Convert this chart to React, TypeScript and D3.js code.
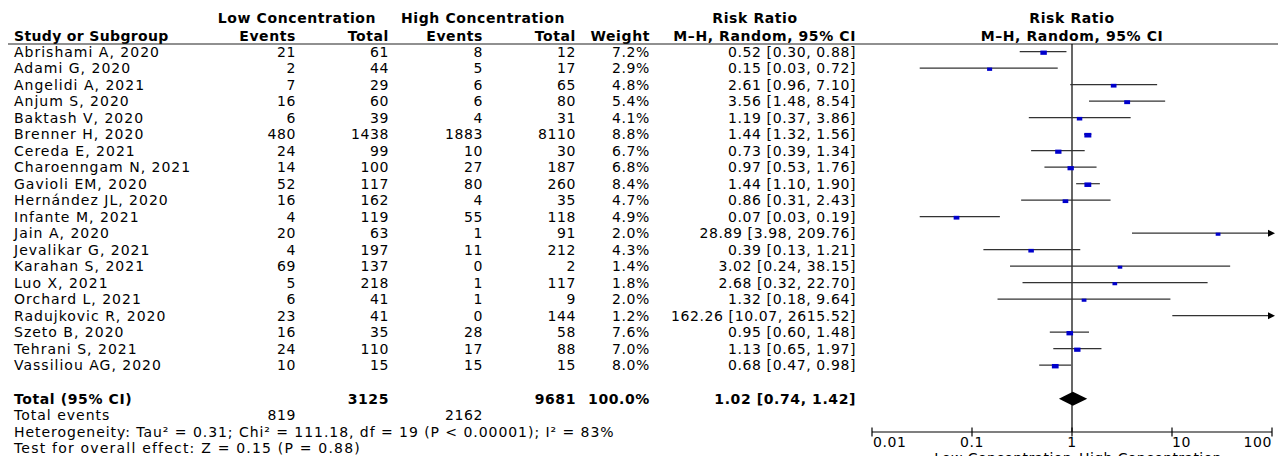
import React, { useEffect, useRef } from "react";
import * as d3 from "d3";

const studies = [
  "Abrishami A, 2020", "Adami G, 2020", "Angelidi A, 2021", "Anjum S, 2020",
  "Baktash V, 2020", "Brenner H, 2020", "Cereda E, 2021", "Charoenngam N, 2021",
  "Gavioli EM, 2020", "Hernández JL, 2020", "Infante M, 2021", "Jain A, 2020",
  "Jevalikar G, 2021", "Karahan S, 2021", "Luo X, 2021", "Orchard L, 2021",
  "Radujkovic R, 2020", "Szeto B, 2020", "Tehrani S, 2021", "Vassiliou AG, 2020"
];
const lowEvents = [21, 2, 7, 16, 6, 480, 24, 14, 52, 16, 4, 20, 4, 69, 5, 6, 23, 16, 24, 10];
const lowTotal = [61, 44, 29, 60, 39, 1438, 99, 100, 117, 162, 119, 63, 197, 137, 218, 41, 41, 35, 110, 15];
const highEvents = [8, 5, 6, 6, 4, 1883, 10, 27, 80, 4, 55, 1, 11, 0, 1, 1, 0, 28, 17, 15];
const highTotal = [12, 17, 65, 80, 31, 8110, 30, 187, 260, 35, 118, 91, 212, 2, 117, 9, 144, 58, 88, 15];
const weights = [7.2, 2.9, 4.8, 5.4, 4.1, 8.8, 6.7, 6.8, 8.4, 4.7, 4.9, 2.0, 4.3, 1.4, 1.8, 2.0, 1.2, 7.6, 7.0, 8.0];
const rr = [0.52, 0.15, 2.61, 3.56, 1.19, 1.44, 0.73, 0.97, 1.44, 0.86, 0.07, 28.89, 0.39, 3.02, 2.68, 1.32, 162.26, 0.95, 1.13, 0.68];
const ciLow = [0.30, 0.03, 0.96, 1.48, 0.37, 1.32, 0.39, 0.53, 1.10, 0.31, 0.03, 3.98, 0.13, 0.24, 0.32, 0.18, 10.07, 0.60, 0.65, 0.47];
const ciHigh = [0.88, 0.72, 7.10, 8.54, 3.86, 1.56, 1.34, 1.76, 1.90, 2.43, 0.19, 209.76, 1.21, 38.15, 22.70, 9.64, 2615.52, 1.48, 1.97, 0.98];

const totalLow = 3125;
const totalHigh = 9681;
const eventsLow = 819;
const eventsHigh = 2162;
const pooled = [1.02, 0.74, 1.42];

const axisTicks = [0.01, 0.1, 1, 10, 100];
const axisLabels = ["0.01", "0.1", "1", "10", "100"];

const W = 1278;
const H = 456;
const FONT = "'DejaVu Sans', Verdana, sans-serif";

const fmtCI = (m: number, lo: number, hi: number) =>
  `${m.toFixed(2)} [${lo.toFixed(2)}, ${hi.toFixed(2)}]`;

const drawChart = (node: SVGSVGElement) => {
  const svg = d3.select(node);
  svg.selectAll("*").remove();

  const x = d3.scaleLog().domain([0.01, 100]).range([872, 1272]);
  const y = d3.scaleLinear().domain([0, 19]).range([51.7, 365.2]);
  const sq = d3.scaleLinear().domain([1.2, 8.8]).range([4.5, 7]);

  const g = svg.append("g")
    .attr("font-family", FONT)
    .attr("font-size", 14)
    .attr("fill", "#000");

  // numbers get a little spacing, words a bit more (reference font is wider)
  const txt = (tx: number, ty: number, s: string, anchor = "start", bold = false, ls = 0.6) =>
    g.append("text")
      .attr("x", tx).attr("y", ty)
      .attr("text-anchor", anchor)
      .attr("font-weight", bold ? "bold" : "normal")
      .attr("letter-spacing", ls)
      .text(s);

  // headers
  txt(297, 23, "Low Concentration", "middle", true);
  txt(483, 23, "High Concentration", "middle", true);
  txt(755, 23, "Risk Ratio", "middle", true);
  txt(1072, 23, "Risk Ratio", "middle", true);
  txt(14, 41, "Study or Subgroup", "start", true, 0.35);
  txt(296, 41, "Events", "end", true);
  txt(389, 41, "Total", "end", true);
  txt(483, 41, "Events", "end", true);
  txt(576, 41, "Total", "end", true);
  txt(650, 41, "Weight", "end", true);
  txt(856, 41, "M\u2013H, Random, 95% CI", "end", true);
  txt(1072, 41, "M\u2013H, Random, 95% CI", "middle", true);

  g.append("line")
    .attr("x1", 8).attr("x2", W).attr("y1", 44).attr("y2", 44)
    .attr("stroke", "#222").attr("stroke-width", 1.2);

  // study rows
  studies.forEach((s, i) => {
    const by = y(i) + 5;
    txt(14, by, s, "start", false, 1.0);
    txt(296, by, String(lowEvents[i]), "end");
    txt(389, by, String(lowTotal[i]), "end");
    txt(483, by, String(highEvents[i]), "end");
    txt(576, by, String(highTotal[i]), "end");
    txt(650, by, weights[i].toFixed(1) + "%", "end");
    txt(856, by, fmtCI(rr[i], ciLow[i], ciHigh[i]), "end");
  });

  // totals
  txt(14, 404, "Total (95% CI)", "start", true);
  txt(389, 404, String(totalLow), "end", true);
  txt(576, 404, String(totalHigh), "end", true);
  txt(650, 404, "100.0%", "end", true);
  txt(856, 404, fmtCI(pooled[0], pooled[1], pooled[2]), "end", true);
  txt(14, 420, "Total events", "start", false, 1.0);
  txt(296, 420, String(eventsLow), "end");
  txt(483, 420, String(eventsHigh), "end");
  txt(14, 437, "Heterogeneity: Tau\u00b2 = 0.31; Chi\u00b2 = 111.18, df = 19 (P < 0.00001); I\u00b2 = 83%", "start", false, 0.95);
  txt(14, 453, "Test for overall effect: Z = 0.15 (P = 0.88)", "start", false, 1.2);

  // forest plot
  const plot = svg.append("g");
  const axisY = 432;
  const xMax = x.range()[1];

  plot.append("line")
    .attr("x1", x(1)).attr("x2", x(1)).attr("y1", 44).attr("y2", axisY)
    .attr("stroke", "#000").attr("stroke-width", 1.2);

  const rows = studies.map((s, i) => ({ i, m: rr[i], lo: ciLow[i], hi: ciHigh[i], w: weights[i] }));

  plot.selectAll("line.ci")
    .data(rows)
    .join("line")
      .attr("class", "ci")
      .attr("x1", d => x(Math.max(d.lo, 0.01)))
      .attr("x2", d => d.hi > 100 ? xMax - 2 : x(d.hi))
      .attr("y1", d => y(d.i))
      .attr("y2", d => y(d.i))
      .attr("stroke", "#333")
      .attr("stroke-width", 1.2);

  plot.selectAll("path.arrow")
    .data(rows.filter(d => d.hi > 100))
    .join("path")
      .attr("class", "arrow")
      .attr("d", d => `M${xMax + 3},${y(d.i)} L${xMax - 4},${y(d.i) - 3.5} L${xMax - 4},${y(d.i) + 3.5} Z`)
      .attr("fill", "#000");

  plot.selectAll("rect.pt")
    .data(rows.filter(d => d.m <= 100))
    .join("rect")
      .attr("class", "pt")
      .attr("x", d => x(d.m) - sq(d.w) / 2)
      .attr("y", d => y(d.i) + 1 - sq(d.w) * 0.33)
      .attr("width", d => sq(d.w))
      .attr("height", d => sq(d.w) * 0.66)
      .attr("fill", "#0000cc");

  const dy = 398.7;
  plot.append("path")
    .attr("d", `M${x(pooled[1])},${dy} L${x(pooled[0])},${dy - 7} L${x(pooled[2])},${dy} L${x(pooled[0])},${dy + 7} Z`)
    .attr("fill", "#000");

  // axis
  plot.append("line")
    .attr("x1", x(0.01)).attr("x2", xMax).attr("y1", axisY).attr("y2", axisY)
    .attr("stroke", "#000").attr("stroke-width", 1.2);

  const anchors = ["start", "middle", "middle", "start", "end"];
  axisTicks.forEach((t, k) => {
    plot.append("line")
      .attr("x1", x(t)).attr("x2", x(t)).attr("y1", axisY - 4.5).attr("y2", axisY + 4.5)
      .attr("stroke", "#000").attr("stroke-width", 1.2);
    plot.append("text")
      .attr("x", x(t) + (k === 0 ? 1 : 0))
      .attr("y", 447)
      .attr("text-anchor", anchors[k])
      .attr("font-family", FONT)
      .attr("font-size", 14)
      .attr("letter-spacing", 0.6)
      .text(axisLabels[k]);
  });

  plot.append("text")
    .attr("x", x(1)).attr("y", 463)
    .attr("text-anchor", "end")
    .attr("font-family", FONT).attr("font-size", 14).attr("letter-spacing", 0.4)
    .text("Low Concentration");
  plot.append("text")
    .attr("x", x(1) + 7).attr("y", 463)
    .attr("text-anchor", "start")
    .attr("font-family", FONT).attr("font-size", 14).attr("letter-spacing", 0.4)
    .text("High Concentration");
};

const App = () => {
  const ref = useRef<SVGSVGElement>(null);
  useEffect(() => {
    if (ref.current) drawChart(ref.current);
  }, []);
  return (
    <svg ref={ref} width={W} height={H}
      style={{ position: "absolute", left: 0, top: 0, background: "#fff" }} />
  );
};

export default App;
